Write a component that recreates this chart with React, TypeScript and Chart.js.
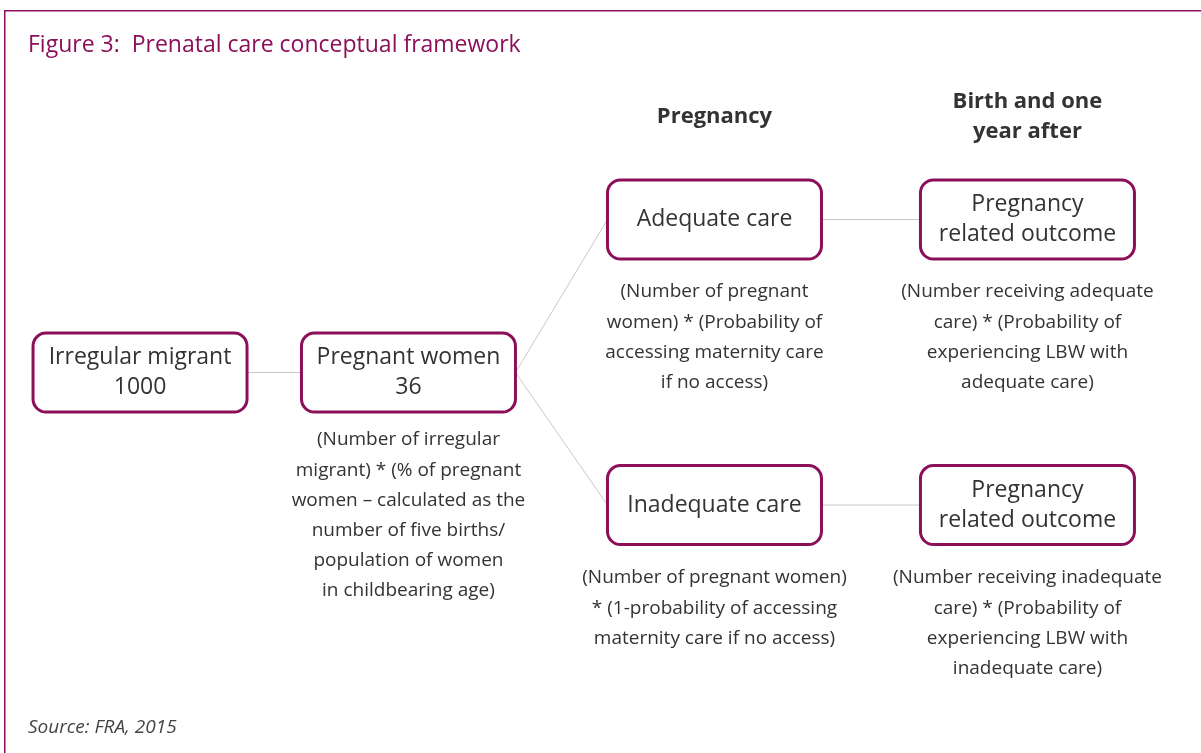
import React, { useEffect, useRef } from "react";
import { Chart, registerables } from "chart.js";

Chart.register(...registerables);

// ---- data ----
const titleText = "Figure 3:  Prenatal care conceptual framework";
const sourceText = "Source: FRA, 2015";

const nodeLabels: string[][] = [
  ["Irregular migrant", "1000"],
  ["Pregnant women", "36"],
  ["Adequate care"],
  ["Pregnancy", "related outcome"],
  ["Inadequate care"],
  ["Pregnancy", "related outcome"],
];
// node centres in diagram units (0-100 on each axis)
const nodeX = [11.66, 34.01, 59.49, 85.55, 59.49, 85.55];
const nodeY = [49.47, 49.47, 29.15, 29.15, 67.07, 67.07];

const links: [number, number][] = [
  [0, 1],
  [1, 2],
  [1, 4],
  [2, 3],
  [4, 5],
];

const notes: string[][] = [
  [],
  [
    "(Number of irregular",
    "migrant) * (% of pregnant",
    "women – calculated as the",
    "number of five births/",
    "population of women",
    "in childbearing age)",
  ],
  [
    "(Number of pregnant",
    "women) * (Probability of",
    "accessing maternity care",
    "if no access)",
  ],
  [
    "(Number receiving adequate",
    "care) * (Probability of",
    "experiencing LBW with",
    "adequate care)",
  ],
  [
    "(Number of pregnant women)",
    "* (1-probability of accessing",
    "maternity care if no access)",
  ],
  [
    "(Number receiving inadequate",
    "care) * (Probability of",
    "experiencing LBW with",
    "inadequate care)",
  ],
];
const noteY = [0, 58.43, 38.78, 38.78, 76.76, 76.76];

const headerLabels: string[][] = [["Pregnancy"], ["Birth and one", "year after"]];
const headerX = [59.49, 85.55];
const headerY = [15.54, 13.55];

const MAGENTA = "#8c0f5a";
const TEXT = "#333333";
const FONT = '"Open Sans", "Noto Sans", sans-serif';

const diagramPlugin = {
  id: "diagram",
  afterDatasetsDraw(chart: any) {
    const ctx = chart.ctx as CanvasRenderingContext2D;
    const xs = chart.scales.x;
    const ys = chart.scales.y;
    const W = chart.width;
    const H = chart.height;
    const boxW = 214;
    const boxH = 79;

    ctx.save();
    // frame
    ctx.strokeStyle = MAGENTA;
    ctx.lineWidth = 1.5;
    ctx.beginPath();
    ctx.moveTo(4.75, H);
    ctx.lineTo(4.75, 10.75);
    ctx.lineTo(W, 10.75);
    ctx.stroke();

    // title
    ctx.fillStyle = MAGENTA;
    ctx.font = `23px ${FONT}`;
    ctx.textAlign = "left";
    ctx.textBaseline = "middle";
    ctx.fillText(titleText, 28, 45);

    // source
    ctx.fillStyle = "#444444";
    ctx.font = `italic 19px ${FONT}`;
    ctx.fillText(sourceText, 28, 728);

    const px = (i: number) => xs.getPixelForValue(nodeX[i]);
    const py = (i: number) => ys.getPixelForValue(nodeY[i]);

    // links
    ctx.strokeStyle = "#c8c8c8";
    ctx.lineWidth = 1;
    links.forEach(([a, b]) => {
      ctx.beginPath();
      ctx.moveTo(px(a) + boxW / 2, py(a));
      ctx.lineTo(px(b) - boxW / 2, py(b));
      ctx.stroke();
    });

    // headers
    ctx.fillStyle = TEXT;
    ctx.font = `bold 22px ${FONT}`;
    ctx.textAlign = "center";
    headerLabels.forEach((lines, i) => {
      const x = xs.getPixelForValue(headerX[i]);
      const y0 = ys.getPixelForValue(headerY[i]);
      lines.forEach((t, k) => ctx.fillText(t, x, y0 + k * 30));
    });

    // boxes
    nodeLabels.forEach((lines, i) => {
      const cx = px(i);
      const cy = py(i);
      ctx.beginPath();
      (ctx as any).roundRect(cx - boxW / 2, cy - boxH / 2, boxW, boxH, 13);
      ctx.fillStyle = "#ffffff";
      ctx.fill();
      ctx.strokeStyle = MAGENTA;
      ctx.lineWidth = 3;
      ctx.stroke();
      ctx.fillStyle = TEXT;
      ctx.font = `23px ${FONT}`;
      ctx.textAlign = "center";
      const lh = 30;
      const start = cy - ((lines.length - 1) * lh) / 2;
      lines.forEach((t, k) => ctx.fillText(t, cx, start + k * lh));
    });

    // notes
    ctx.fillStyle = TEXT;
    ctx.font = `19px ${FONT}`;
    notes.forEach((lines, i) => {
      if (!lines.length) return;
      const cx = px(i);
      const y0 = ys.getPixelForValue(noteY[i]);
      lines.forEach((t, k) => ctx.fillText(t, cx, y0 + k * 30.2));
    });
    ctx.restore();
  },
};

export default function App() {
  const ref = useRef<HTMLCanvasElement | null>(null);
  useEffect(() => {
    if (!ref.current) return;
    const chart = new Chart(ref.current, {
      type: "scatter",
      data: {
        datasets: [
          {
            label: "nodes",
            data: nodeX.map((x, i) => ({ x, y: nodeY[i] })),
            pointRadius: 0,
            pointHoverRadius: 0,
          },
        ],
      },
      options: {
        animation: false,
        responsive: false,
        maintainAspectRatio: false,
        layout: { padding: 0 },
        events: [],
        scales: {
          x: { type: "linear", min: 0, max: 100, display: false },
          y: { type: "linear", min: 0, max: 100, reverse: true, display: false },
        },
        plugins: {
          legend: { display: false },
          title: { display: false },
          tooltip: { enabled: false },
        },
      },
      plugins: [diagramPlugin],
    });
    return () => chart.destroy();
  }, []);
  return (
    <div
      style={{
        position: "fixed",
        left: 0,
        top: 0,
        width: 1201,
        height: 753,
        background: "#ffffff",
      }}
    >
      <canvas ref={ref} width={1201} height={753} style={{ width: 1201, height: 753 }} />
    </div>
  );
}
